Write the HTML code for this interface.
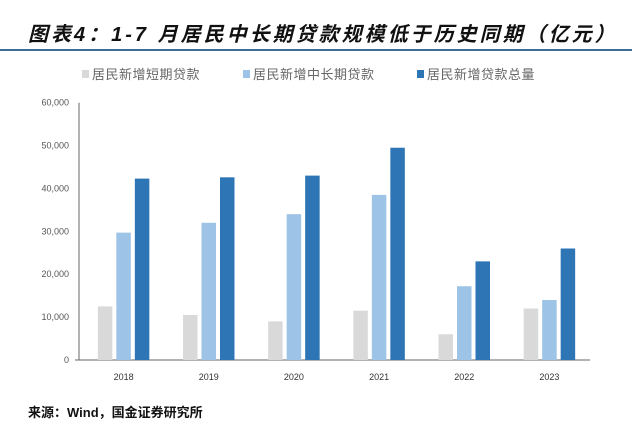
<!DOCTYPE html>
<html><head><meta charset="utf-8">
<style>
body{margin:0;width:640px;height:435px;background:#fff;font-family:"Liberation Sans","Noto Sans CJK SC",sans-serif;overflow:hidden;position:relative}
#title{position:absolute;left:28px;top:18px;font-size:20px;font-weight:bold;font-style:italic;color:#111;letter-spacing:3px;white-space:nowrap}
#rule{position:absolute;left:0;top:49px;width:632px;height:2px;background:#3d6d99}
#src{position:absolute;left:28px;top:402px;font-size:13px;font-weight:bold;color:#111}
</style></head><body>
<div id="title">图表4：1-7 月居民中长期贷款规模低于历史同期（亿元）</div>
<div id="rule"></div>
<svg id="chart" width="640" height="400" style="position:absolute;left:0;top:0"></svg>
<div id="src">来源：Wind，国金证券研究所</div>
<script>
const categories=["2018","2019","2020","2021","2022","2023"];
const shortLoans=[12500,10500,9000,11500,6000,12000];
const longLoans=[29700,32000,34000,38500,17200,14000];
const totalLoans=[42300,42600,43000,49500,23000,26000];
const tickValues=[0,10000,20000,30000,40000,50000,60000];
const tickLabels=["0","10,000","20,000","30,000","40,000","50,000","60,000"];
const seriesNames=["居民新增短期贷款","居民新增中长期贷款","居民新增贷款总量"];
const colors=["#d9d9d9","#9dc3e6","#2e75b6"];
const svg=document.getElementById('chart');const NS="http://www.w3.org/2000/svg";
function mk(t,a,p){const e=document.createElementNS(NS,t);for(const k in a)e.setAttribute(k,a[k]);(p||svg).appendChild(e);return e;}
const x0=79,x1=590,y0=360,yTop=102.7,ymax=60000;
const y=v=>y0-(v/ymax)*(y0-yTop);
const gw=(x1-x0)/categories.length;
tickValues.forEach((v,i)=>{const t=mk('text',{x:69,y:y(v)+3,'text-anchor':'end','font-size':9,fill:'#555'});t.textContent=tickLabels[i];

});
const ax=mk('line',{x1:x0,y1:yTop,x2:x0,y2:y0,stroke:'#666'});

const xa=mk('line',{x1:x0-4,y1:y0,x2:x1,y2:y0,stroke:'#666'});

const series=[shortLoans,longLoans,totalLoans];const bw=14.5,gap=4;
categories.forEach((c,i)=>{const cx=x0+gw*(i+0.5)+2;
series.forEach((s,j)=>{const bx=cx+(j-1)*(bw+gap)-bw/2;
const r=mk('rect',{x:bx,y:y(s[i]),width:bw,height:y0-y(s[i]),fill:colors[j]});

});
const t=mk('text',{x:cx,y:y0+20,'text-anchor':'middle','font-size':9,fill:'#333'});t.textContent=c;

});
const lx=[82,243,417];
seriesNames.forEach((n,j)=>{const g=mk('g',{});


mk('rect',{x:lx[j],y:70,width:7,height:8,fill:colors[j]},g);
const t=mk('text',{x:lx[j]+10,y:79,'font-size':13,fill:'#666','letter-spacing':'0.5'},g);t.textContent=n;});
</script>
</body></html>
